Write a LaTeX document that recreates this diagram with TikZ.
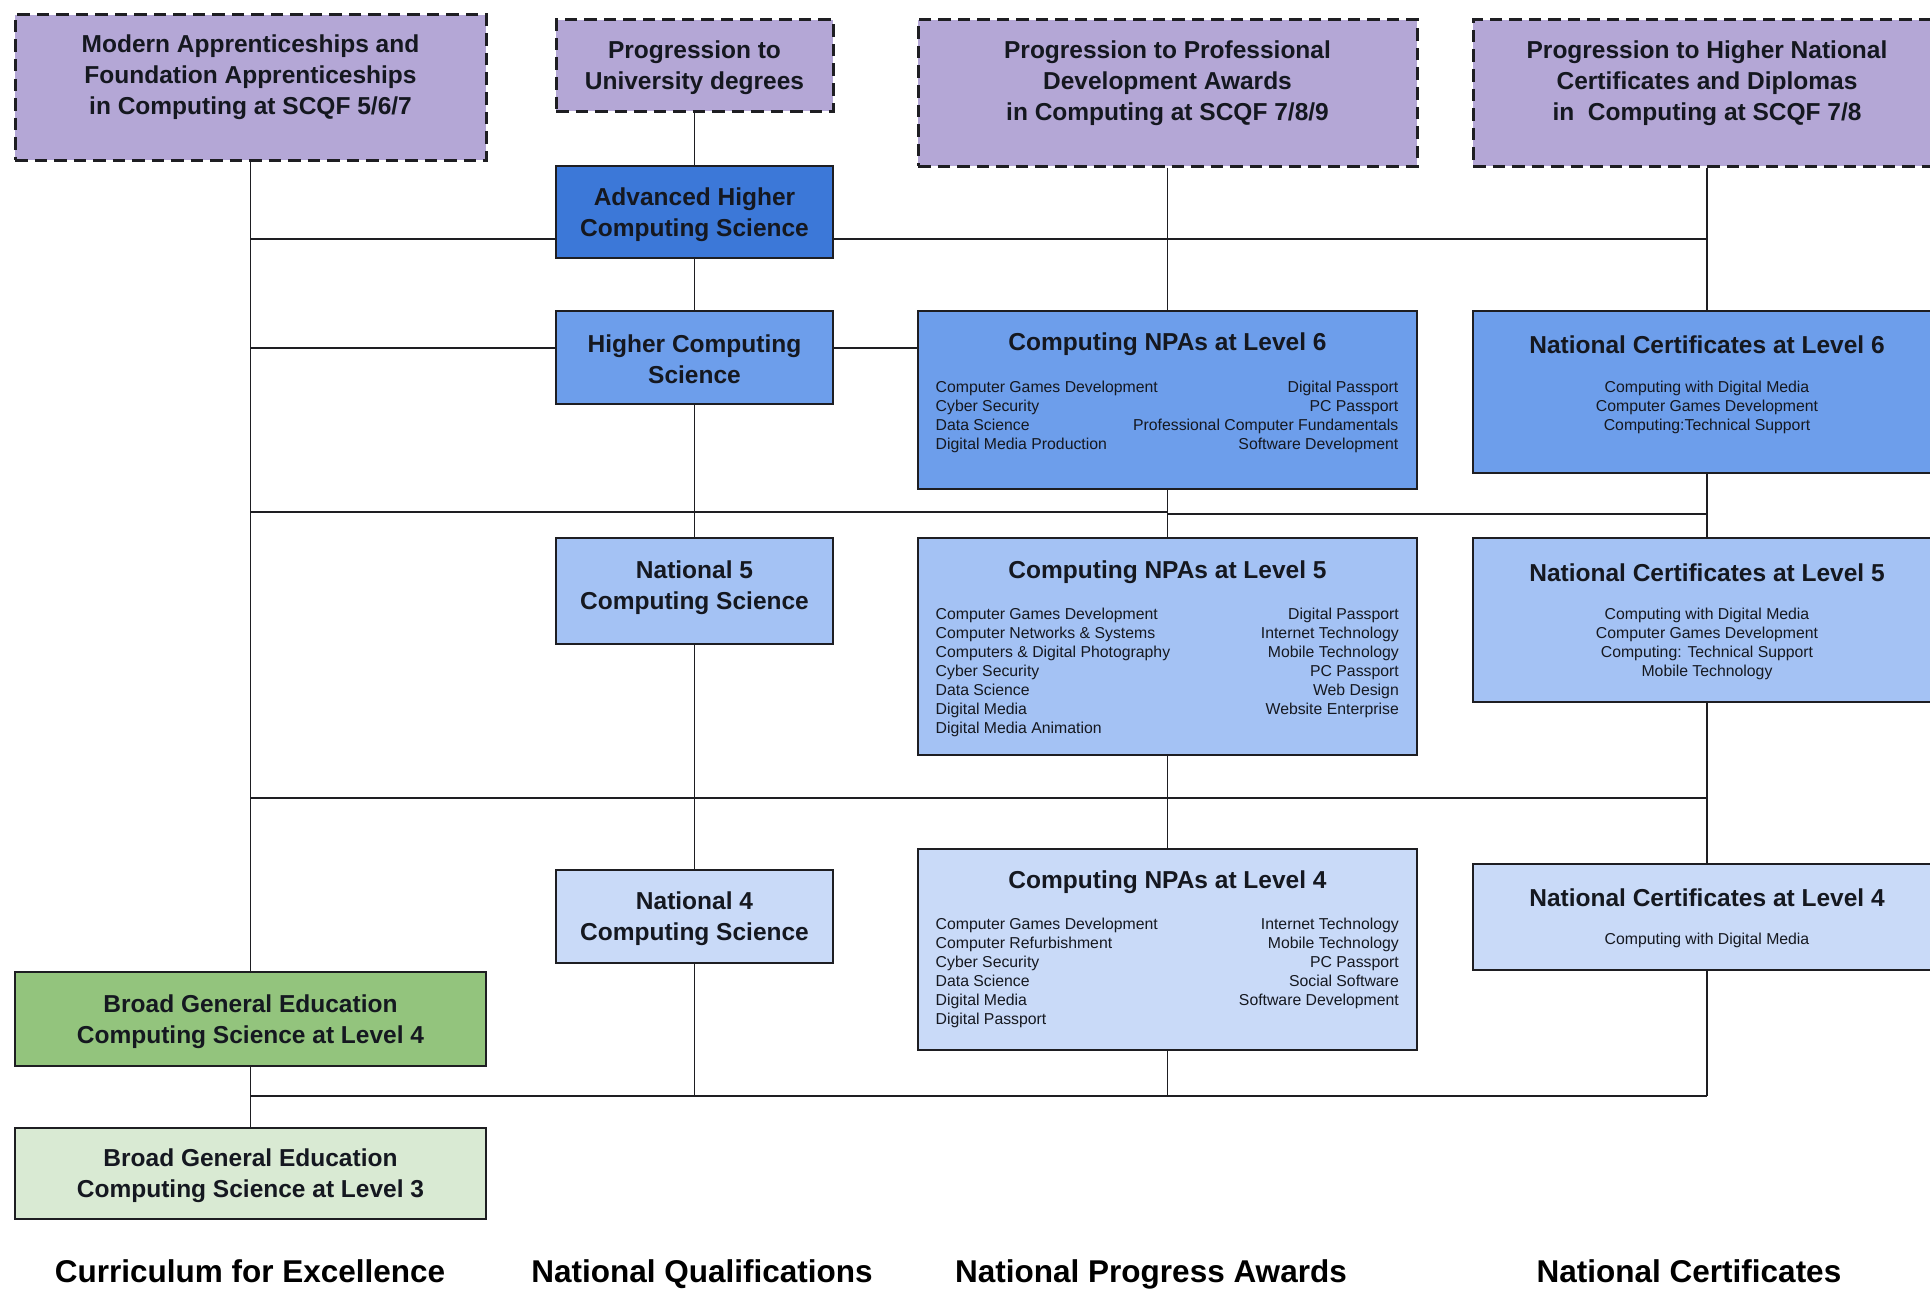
\documentclass[tikz,border=0pt]{standalone}
\usepackage{fontspec}
\setmainfont{Liberation Sans}
\definecolor{purp}{HTML}{B4A7D6}
\definecolor{bahx}{HTML}{3C78D8}
\definecolor{bsix}{HTML}{6D9EEB}
\definecolor{bfive}{HTML}{A4C2F4}
\definecolor{bfour}{HTML}{C9DAF8}
\definecolor{gfour}{HTML}{93C47D}
\definecolor{gthree}{HTML}{D9EAD3}
\definecolor{txt}{HTML}{151820}
\definecolor{edge}{HTML}{1E1E22}
\begin{document}
\begin{tikzpicture}[x=1pt,y=-1pt,
  sbox/.style={draw=edge, rectangle, inner sep=0pt, line width=2.6pt},
  dbox/.style={draw=edge, rectangle, inner sep=0pt, line width=3pt, dash pattern=on 12.5pt off 7pt},
  htext/.style={inner sep=0pt, align=center, text=txt, font=\bfseries\fontsize{24.5}{31}\selectfont},
  stext/.style={inner sep=0pt, text=txt, font=\fontsize{15.8}{19}\selectfont},
  foot/.style={inner sep=0pt, anchor=base, text=black, font=\bfseries\fontsize{31.5}{36}\selectfont},
  conn/.style={draw=edge, line width=1.5pt}]
\useasboundingbox (0,0) rectangle (1930,1290);
\fill[white] (0,0) rectangle (1930,1290);

% boxes
\node[dbox, fill=purp, minimum width=471pt, minimum height=145pt] (A) at (250.5,87.5) {};
\node[dbox, fill=purp, minimum width=277pt, minimum height=91pt] (B) at (694.5,65.5) {};
\node[dbox, fill=purp, minimum width=499pt, minimum height=146pt] (C) at (1167.5,93) {};
\node[dbox, fill=purp, minimum width=468pt, minimum height=146pt] (D) at (1707,93) {};
\node[sbox, fill=bahx, minimum width=277pt, minimum height=92pt] (AH) at (694.5,212) {};
\node[sbox, fill=bsix, minimum width=277pt, minimum height=93pt] (HI) at (694.5,357.5) {};
\node[sbox, fill=bsix, minimum width=499pt, minimum height=178pt] (P6) at (1167.5,400) {};
\node[sbox, fill=bsix, minimum width=468pt, minimum height=162pt] (C6) at (1707,392) {};
\node[sbox, fill=bfive, minimum width=277pt, minimum height=106pt] (N5) at (694.5,591) {};
\node[sbox, fill=bfive, minimum width=499pt, minimum height=217pt] (P5) at (1167.5,646.5) {};
\node[sbox, fill=bfive, minimum width=468pt, minimum height=164pt] (C5) at (1707,620) {};
\node[sbox, fill=bfour, minimum width=277pt, minimum height=93pt] (N4) at (694.5,916.5) {};
\node[sbox, fill=bfour, minimum width=499pt, minimum height=201pt] (P4) at (1167.5,949.5) {};
\node[sbox, fill=bfour, minimum width=468pt, minimum height=106pt] (C4) at (1707,917) {};
\node[sbox, fill=gfour, minimum width=471pt, minimum height=94pt] (G4) at (250.5,1019) {};
\node[sbox, fill=gthree, minimum width=471pt, minimum height=91pt] (G3) at (250.5,1173.5) {};

% junction coordinates
\coordinate (s1) at (250.5,239);
\coordinate (e1) at (1707,239);
\coordinate (s2) at (250.5,348);
\coordinate (s3) at (250.5,512);
\coordinate (m3) at (694.5,512);
\coordinate (p3) at (1167.5,512);
\coordinate (p3b) at (1167.5,514);
\coordinate (e3) at (1707,514);
\coordinate (s4) at (250.5,798);
\coordinate (e4) at (1707,798);
\coordinate (s5) at (250.5,1096);
\coordinate (m5) at (694.5,1096);
\coordinate (p5) at (1167.5,1096);
\coordinate (e5) at (1707,1096);

% vertical spines
\draw[conn] (A.south) -- (G4.north);
\draw[conn] (G4.south) -- (G3.north);
\draw[conn] (B.south) -- (AH.north);
\draw[conn] (AH.south) -- (HI.north);
\draw[conn] (HI.south) -- (N5.north);
\draw[conn] (N5.south) -- (N4.north);
\draw[conn] (N4.south) -- (m5);
\draw[conn] (C.south) -- (P6.north);
\draw[conn] (P6.south) -- (P5.north);
\draw[conn] (P5.south) -- (P4.north);
\draw[conn] (P4.south) -- (p5);
\draw[conn] (D.south) -- (C6.north);
\draw[conn] (C6.south) -- (C5.north);
\draw[conn] (C5.south) -- (C4.north);
\draw[conn] (C4.south) -- (e5);
% horizontal buses
\draw[conn] (s1) -- (s1 -| AH.west);
\draw[conn] (s1 -| AH.east) -- (e1);
\draw[conn] (s2) -- (s2 -| HI.west);
\draw[conn] (s2 -| HI.east) -- (s2 -| P6.west);
\draw[conn] (s3) -- (m3);
\draw[conn, line width=2.8pt] (m3) -- (p3);
\draw[conn] (p3b) -- (e3);
\draw[conn] (s4) -- (e4);
\draw[conn] (s5) -- (e5);

% texts
\node[htext] (At) at (250.5,77) {Modern Apprenticeships and\\Foundation Apprenticeships\\in Computing at SCQF 5/6/7};
\node[htext] (Bt) at (694.5,67.5) {Progression to\\University degrees};
\node[htext] (Ct) at (1167.5,83) {Progression to Professional\\Development Awards\\in Computing at SCQF 7/8/9};
\node[htext] (Dt) at (1707,83) {Progression to Higher National\\Certificates and Diplomas\\in\ \ Computing at SCQF 7/8};
\node[htext] (AHt) at (694.5,214.5) {Advanced Higher\\Computing Science};
\node[htext] (HIt) at (694.5,359.5) {Higher Computing\\Science};
\node[htext] (N5t) at (694.5,587.5) {National 5\\Computing Science};
\node[htext] (N4t) at (694.5,918.5) {National 4\\Computing Science};
\node[htext] (G4t) at (250.5,1021.5) {Broad General Education\\Computing Science at Level 4};
\node[htext] (G3t) at (250.5,1175.5) {Broad General Education\\Computing Science at Level 3};

\node[htext] (P6h) at (1167.5,344.5) {Computing NPAs at Level 6};
\node[htext] (C6h) at (1707,344.5) {National Certificates at Level 6};
\node[htext] (P5h) at (1167.5,572.5) {Computing NPAs at Level 5};
\node[htext] (C5h) at (1707,572.5) {National Certificates at Level 5};
\node[htext] (P4h) at (1167.5,882.5) {Computing NPAs at Level 4};
\node[htext] (C4h) at (1707,897.5) {National Certificates at Level 4};

\node[stext, align=left, anchor=north west] (P6l) at (935.5,380.5) {Computer Games Development\\Cyber Security\\Data Science\\Digital Media Production};
\node[stext, align=right, anchor=north east] (P6r) at (1398.5,380.5) {Digital Passport\\PC Passport\\Professional Computer Fundamentals\\Software Development};
\node[stext, align=center, anchor=north] (C6l) at (1707,380.5) {Computing with Digital Media\\Computer Games Development\\Computing:Technical Support};

\node[stext, align=left, anchor=north west] (P5l) at (935.5,608) {Computer Games Development\\Computer Networks \& Systems\\Computers \& Digital Photography\\Cyber Security\\Data Science\\Digital Media\\Digital Media Animation};
\node[stext, align=right, anchor=north east] (P5r) at (1399,608) {Digital Passport\\Internet Technology\\Mobile Technology\\PC Passport\\Web Design\\Website Enterprise};
\node[stext, align=center, anchor=north] (C5l) at (1707,608) {Computing with Digital Media\\Computer Games Development\\Computing: Technical Support\\Mobile Technology};

\node[stext, align=left, anchor=north west] (P4l) at (935.5,918) {Computer Games Development\\Computer Refurbishment\\Cyber Security\\Data Science\\Digital Media\\Digital Passport};
\node[stext, align=right, anchor=north east] (P4r) at (1399,918) {Internet Technology\\Mobile Technology\\PC Passport\\Social Software\\Software Development};
\node[stext, align=center, anchor=north] (C4l) at (1707,933) {Computing with Digital Media};

% footer labels
\node[foot] (F1) at (250,1282) {Curriculum for Excellence};
\node[foot] (F2) at (702,1282) {National Qualifications};
\node[foot] (F3) at (1151,1282) {National Progress Awards};
\node[foot] (F4) at (1689,1282) {National Certificates};
\end{tikzpicture}
\end{document}
